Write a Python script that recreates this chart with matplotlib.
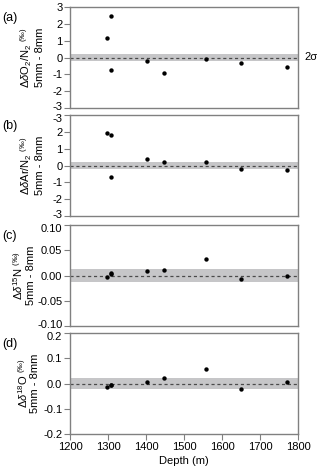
import matplotlib
matplotlib.use("Agg")
import matplotlib.pyplot as plt
import matplotlib.transforms as mtransforms

plt.rcParams['font.family'] = ['Liberation Sans', 'DejaVu Sans']
plt.rcParams['mathtext.fontset'] = 'custom'
plt.rcParams['mathtext.rm'] = 'Liberation Sans'
plt.rcParams['mathtext.it'] = 'Liberation Sans:italic'
plt.rcParams['mathtext.bf'] = 'Liberation Sans:bold'

depth = [1297, 1308, 1308, 1403, 1448, 1558, 1649, 1770]
d_o2n2 = [1.15, 2.45, -0.72, -0.22, -0.95, -0.08, -0.32, -0.55]
d_arn2 = [1.95, 1.80, -0.70, 0.38, 0.20, 0.23, -0.20, -0.25]
d_15n = [-0.003, 0.005, 0.002, 0.009, 0.011, 0.032, -0.006, -0.001]
d_18o = [-0.013, -0.005, -0.005, 0.005, 0.022, 0.058, -0.022, 0.007]
two_sigma = [0.2, 0.2, 0.013, 0.02]

panel_letters = ['(a)', '(b)', '(c)', '(d)']
ylabels = [r'$\Delta\delta$O$_2$/N$_2$ $^{(‰)}$' + '\n5mm - 8mm',
           r'$\Delta\delta$Ar/N$_2$ $^{(‰)}$' + '\n5mm - 8mm',
           r'$\Delta\delta^{15}$N $^{(‰)}$' + '\n5mm - 8mm',
           r'$\Delta\delta^{18}$O $^{(‰)}$' + '\n5mm - 8mm']
ylims = [(-3, 3), (-3, 3), (-0.10, 0.10), (-0.2, 0.2)]
yticks = [[-3, -2, -1, 0, 1, 2, 3], [-3, -2, -1, 0, 1, 2, 3],
          [-0.10, -0.05, 0.00, 0.05, 0.10], [-0.2, -0.1, 0.0, 0.1, 0.2]]
yticklabels = [['-3', '-2', '-1', '0', '1', '2', '3'],
               ['-3', '-2', '-1', '0', '1', '2', '-3'],
               ['-0.10', '-0.05', '0.00', '0.05', '0.10'],
               ['-0.2', '-0.1', '0.0', '0.1', '0.2']]
xticks = [1200, 1300, 1400, 1500, 1600, 1700, 1800]
series = [d_o2n2, d_arn2, d_15n, d_18o]

W, H = 320, 470
fig = plt.figure(figsize=(W / 100, H / 100), dpi=100)
tops = [7, 115, 225, 333]
label_x = [-0.11, -0.11, -0.15, -0.13]
ph = 101
left, right = 70, 298
frame = '#808080'
for i in range(4):
    ax = fig.add_axes([left / W, 1 - (tops[i] + ph) / H, (right - left) / W, ph / H])
    ax.axhspan(-two_sigma[i], two_sigma[i], color='#c6c6c8', lw=0, zorder=1)
    ax.axhline(0, color='#4a4a4a', lw=0.9, ls=(0, (2.5, 2.2)), zorder=2)
    ax.scatter(depth, series[i], s=10, color='black', zorder=3, lw=0)
    ax.set_xlim(1200, 1800)
    ax.set_ylim(*ylims[i])
    ax.set_yticks(yticks[i])
    ax.set_yticklabels(yticklabels[i])
    ax.set_xticks(xticks)
    for s in ax.spines.values():
        s.set_color(frame)
        s.set_linewidth(1.0)
    ax.tick_params(axis='y', direction='out', length=4, width=0.8, color=frame,
                   labelsize=8, pad=1.5)
    labels = ax.get_yticklabels()
    if i < 3:
        off = mtransforms.ScaledTranslation(0, 2.5 / 100, fig.dpi_scale_trans)
        labels[0].set_transform(labels[0].get_transform() + off)
    if i > 0:
        off = mtransforms.ScaledTranslation(0, -2.5 / 100, fig.dpi_scale_trans)
        labels[-1].set_transform(labels[-1].get_transform() + off)
    if i == 3:
        ax.tick_params(axis='x', direction='out', length=4, width=0.8, color=frame,
                       labelsize=8, pad=2)
        ax.set_xlabel('Depth (m)', fontsize=8, labelpad=3)
    else:
        ax.tick_params(axis='x', length=0, labelbottom=False)
    ax.set_ylabel(ylabels[i], fontsize=8, linespacing=1.1, labelpad=2)
    ax.yaxis.set_label_coords(label_x[i], 0.5)
    fig.text(2 / W, 1 - (tops[i] + 11) / H, panel_letters[i], fontsize=9,
             ha='left', va='center')
    if i == 0:
        ax.text(1.03, 0, '2σ', transform=ax.get_yaxis_transform(), fontsize=8,
                ha='left', va='center')

fig.savefig('out.png', dpi=100)
